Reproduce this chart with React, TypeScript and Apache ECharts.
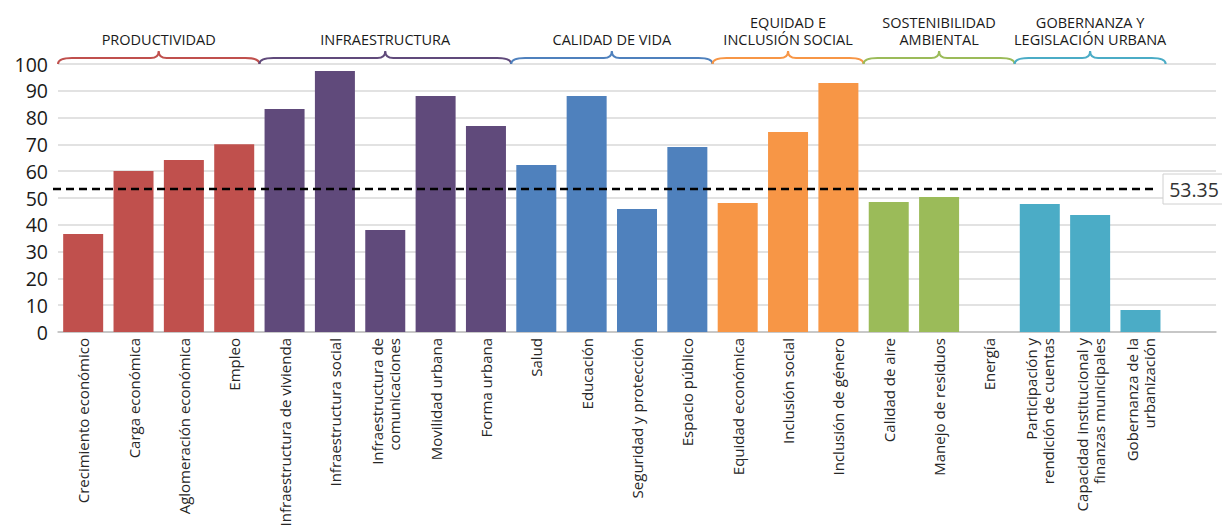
import React, { useEffect, useRef } from "react";
import * as echarts from "echarts";

const categories = [
  "Crecimiento económico",
  "Carga económica",
  "Aglomeración económica",
  "Empleo",
  "Infraestructura de vivienda",
  "Infraestructura social",
  "Infraestructura de\ncomunicaciones",
  "Movilidad urbana",
  "Forma urbana",
  "Salud",
  "Educación",
  "Seguridad y protección",
  "Espacio público",
  "Equidad económica",
  "Inclusión social",
  "Inclusión de género",
  "Calidad de aire",
  "Manejo de residuos",
  "Energía",
  "Participación y\nrendición de cuentas",
  "Capacidad institucional y\nfinanzas municipales",
  "Gobernanza de la\nurbanización",
  "",
];

const values: (number | null)[] = [
  36.6, 60.1, 64.2, 70.1, 83.2, 97.4, 38.1, 88.1, 76.9, 62.3, 88.1, 45.9, 69.0,
  48.1, 74.6, 92.9, 48.5, 50.4, null, 47.8, 43.7, 8.2, null,
];

const meanValue = 53.35;

const groupLabels = [
  "PRODUCTIVIDAD",
  "INFRAESTRUCTURA",
  "CALIDAD DE VIDA",
  "EQUIDAD E\nINCLUSIÓN SOCIAL",
  "SOSTENIBILIDAD\nAMBIENTAL",
  "GOBERNANZA Y\nLEGISLACIÓN URBANA",
];
const groupStart = [0, 4, 9, 13, 16, 19];
const groupEnd = [3, 8, 12, 15, 18, 21];
const groupColors = ["#C0504D", "#604A7B", "#4F81BD", "#F79646", "#9BBB59", "#4BACC6"];

const yTicks = { min: 0, max: 100, interval: 10 };

function colorFor(idx: number): string {
  for (let g = 0; g < groupStart.length; g++) {
    if (idx >= groupStart[g] && idx <= groupEnd[g]) return groupColors[g];
  }
  return "#999";
}

export default function App() {
  const ref = useRef<HTMLDivElement>(null);
  useEffect(() => {
    if (!ref.current) return;
    const chart = echarts.init(ref.current, null, { renderer: "svg" });
    const option: any = {
      animation: false,
      textStyle: { fontFamily: "'Open Sans', sans-serif" },
      grid: {
        left: 58,
        right: 6,
        top: 64,
        bottom: 195,
        containLabel: false,
        outerBoundsMode: "none",
      },
      xAxis: {
        type: "category",
        data: categories,
        axisTick: { show: false },
        axisLine: { lineStyle: { color: "#BFBFBF", width: 1.5 } },
        axisLabel: {
          interval: 0,
          rotate: 90,
          fontSize: 15,
          lineHeight: 17,
          color: "#262626",
          margin: 6,
          hideOverlap: false,
        },
      },
      yAxis: {
        type: "value",
        min: yTicks.min,
        max: yTicks.max,
        interval: yTicks.interval,
        axisLine: { show: false },
        axisTick: { show: false },
        axisLabel: { fontSize: 19.5, color: "#1a1a1a", margin: 10 },
        splitLine: { lineStyle: { color: "#D9D9D9", width: 1.5 } },
      },
      series: [
        {
          type: "bar",
          data: values.map((v, i) => ({ value: v, itemStyle: { color: colorFor(i) } })),
          barWidth: 40,
          z: 2,
        },
        {
          type: "custom",
          clip: false,
          z: 5,
          silent: true,
          data: groupStart.map((s) => [s, 100]),
          renderItem: (params: any, api: any) => {
            const i = params.dataIndex;
            const bw = api.size([1, 0])[0];
            const p0 = api.coord([groupStart[i], 100]);
            const p1 = api.coord([groupEnd[i], 100]);
            const x0 = p0[0] - bw / 2;
            const x1 = p1[0] + bw / 2;
            const y = p0[1];
            const xm = (x0 + x1) / 2;
            const h = 6;
            const pk = 13;
            const r = 14;
            const d = `M${x0},${y} Q${x0},${y - h} ${x0 + r},${y - h} L${xm - 8},${y - h} Q${xm},${y - h} ${xm},${y - pk} Q${xm},${y - h} ${xm + 8},${y - h} L${x1 - r},${y - h} Q${x1},${y - h} ${x1},${y}`;
            return {
              type: "group",
              children: [
                {
                  type: "path",
                  shape: { pathData: d },
                  style: { fill: "none", stroke: groupColors[i], lineWidth: 2 },
                },
                {
                  type: "text",
                  x: xm,
                  y: y - pk - 3,
                  style: {
                    text: groupLabels[i],
                    align: "center",
                    verticalAlign: "bottom",
                    fill: "#1a1a1a",
                    font: "14.5px 'Open Sans', sans-serif",
                    lineHeight: 17,
                  },
                },
              ],
            };
          },
        },
        {
          type: "custom",
          clip: false,
          z: 6,
          silent: true,
          data: [[0, meanValue]],
          renderItem: (params: any, api: any) => {
            const cs = params.coordSys;
            const y = api.coord([0, api.value(1)])[1];
            const xs = cs.x - 5;
            const xe = cs.x + cs.width - 58;
            return {
              type: "group",
              children: [
                {
                  type: "line",
                  shape: { x1: xs, y1: y, x2: xe, y2: y },
                  style: { stroke: "#000", lineWidth: 2.5, lineDash: [8, 5] },
                },
                {
                  type: "rect",
                  shape: { x: xe + 5, y: y - 15, width: 62, height: 30 },
                  style: { fill: "#fff", stroke: "#D0D0D0", lineWidth: 1 },
                },
                {
                  type: "text",
                  x: xe + 5 + 31,
                  y: y,
                  style: {
                    text: meanValue.toFixed(2),
                    align: "center",
                    verticalAlign: "middle",
                    fill: "#333",
                    font: "19.5px 'Open Sans', sans-serif",
                  },
                },
              ],
            };
          },
        },
      ],
    };
    chart.setOption(option);
    return () => chart.dispose();
  }, []);
  return (
    <div
      ref={ref}
      style={{ position: "fixed", left: 0, top: 0, width: 1222, height: 527, background: "#fff" }}
    />
  );
}
